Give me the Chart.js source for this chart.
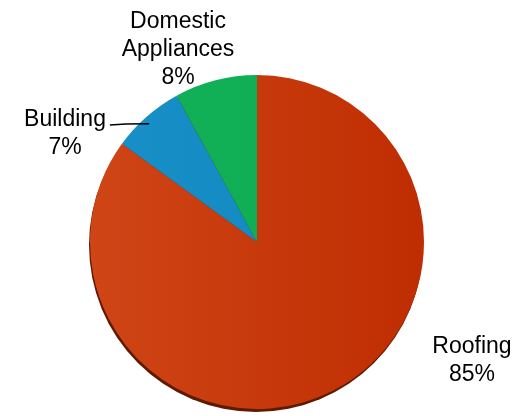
<!DOCTYPE html>
<html lang="en">
  <head>
    <meta charset="utf-8">
    <title>Pie</title>
    <style>
      html, body { margin: 0; padding: 0; background: #fff; }
      #wrap { width: 530px; height: 416px; }
    </style>
  </head>
  <body>
    <div id="wrap"><canvas id="pie-chart" width="530" height="416"></canvas></div>
    <script src="https://cdn.jsdelivr.net/npm/chart.js"></script>
    <script>
      var categories = ["Roofing", "Building", "Domestic Appliances"];
      var values = [85, 7, 8];
      var tickLabels = [["Roofing", "85%"], ["Building", "7%"], ["Domestic", "Appliances", "8%"]];
      var colors = [["#d04617", "#bf2e02"], ["#1a90c8", "#0f86bd"], ["#12b158", "#0eac52"]];

      // where each label sits, relative to the pie centre
      var labelSpots = [
        { dx: 215, dy: 111 },
        { dx: -192, dy: -116 },
        { dx: -79, dy: -214 }
      ];

      var shadowPlugin = {
        id: 'pieShadow',
        beforeDatasetsDraw: function(chart) {
          var arc = chart.getDatasetMeta(0).data[0];
          var ctx = chart.ctx;
          ctx.save();
          ctx.beginPath();
          ctx.arc(arc.x - 1, arc.y + 3, arc.outerRadius, 0, Math.PI * 2);
          ctx.fillStyle = '#5e1a02';
          ctx.fill();
          ctx.restore();
        }
      };

      var labelPlugin = {
        id: 'pieLabels',
        afterDatasetsDraw: function(chart) {
          var ctx = chart.ctx;
          var arcs = chart.getDatasetMeta(0).data;
          ctx.save();
          ctx.font = '23px "Liberation Sans", Arial, sans-serif';
          ctx.fillStyle = '#000';
          ctx.textAlign = 'center';
          ctx.textBaseline = 'alphabetic';
          var lh = 28;
          arcs.forEach(function(a, i) {
            var lines = tickLabels[i];
            var x = a.x + labelSpots[i].dx;
            var y = a.y + labelSpots[i].dy;
            for (var k = 0; k < lines.length; k++) {
              ctx.fillText(lines[k], x, y + k * lh);
            }
            if (i == 1) {
              // leader line from "Building" to its slice
              var w = ctx.measureText(lines[0]).width;
              var mid = (a.startAngle + a.endAngle) / 2;
              var ex = a.x + Math.cos(mid) * (a.outerRadius - 4);
              var ey = a.y + Math.sin(mid) * (a.outerRadius - 4) + 4;
              ctx.beginPath();
              ctx.lineWidth = 1.3;
              ctx.strokeStyle = '#000';
              ctx.moveTo(x + w / 2 + 4, y - 1);
              ctx.lineTo(x + w / 2 + 20, y - 2);
              ctx.lineTo(ex, ey);
              ctx.stroke();
            }
          });
          ctx.restore();
        }
      };

      new Chart(document.getElementById("pie-chart"), {
        type: 'pie',
        data: {
          labels: categories,
          datasets: [{
            data: values,
            borderWidth: 0,
            backgroundColor: function(c) {
              var area = c.chart.chartArea;
              if (!area) return colors[c.dataIndex][0];
              var g = c.chart.ctx.createLinearGradient(area.left + 80, 0, area.right - 100, 0);
              g.addColorStop(0, colors[c.dataIndex][0]);
              g.addColorStop(1, colors[c.dataIndex][1]);
              return g;
            }
          }]
        },
        options: {
          responsive: false,
          animation: false,
          layout: { padding: { top: 75, bottom: 7, left: 0, right: 16 } },
          plugins: {
            legend: { display: false },
            tooltip: { enabled: false }
          }
        },
        plugins: [shadowPlugin, labelPlugin]
      });
    </script>
  </body>
</html>
